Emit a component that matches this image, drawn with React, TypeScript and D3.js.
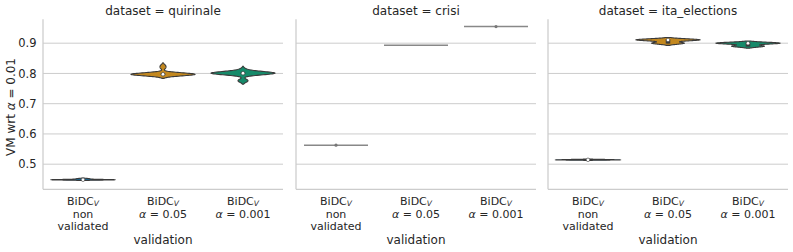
import React from 'react';
import * as d3 from 'd3';

// facets and categories
const datasets = ['quirinale', 'crisi', 'ita_elections'];
const validations = ['nv', 'a005', 'a0001'];
const secondLines = ['non', 'α = 0.05', 'α = 0.001'];
const thirdLines = ['validated', '', ''];
const colors = ['#176d9c', '#c3881f', '#168a6a'];
const yTicks = [0.5, 0.6, 0.7, 0.8, 0.9];

// VM wrt alpha = 0.01, samples per dataset / validation
const quirinaleNv = [0.4478, 0.448, 0.4483, 0.4485, 0.4485, 0.4488, 0.449, 0.4495, 0.451, 0.4525];
const quirinale005 = [0.793, 0.794, 0.795, 0.796, 0.796, 0.797, 0.797, 0.797, 0.797, 0.7975, 0.798, 0.798, 0.798, 0.799, 0.8, 0.801, 0.818, 0.826];
const quirinale0001 = [0.775, 0.777, 0.798, 0.799, 0.8, 0.8, 0.8, 0.8005, 0.801, 0.801, 0.801, 0.802, 0.802, 0.803, 0.804, 0.813];
const crisiNv = [0.563, 0.563, 0.563];
const crisi005 = [0.893];
const crisi0001 = [0.955, 0.955, 0.955];
const itaNv = [0.5135, 0.514, 0.514, 0.5145, 0.5145, 0.515, 0.5155, 0.516];
const ita005 = [0.8995, 0.9, 0.9, 0.9005, 0.91, 0.9105, 0.911, 0.911, 0.911, 0.9115, 0.912, 0.912];
const ita0001 = [0.8895, 0.89, 0.89, 0.8905, 0.899, 0.8995, 0.9, 0.9, 0.9, 0.9005, 0.901, 0.901];

const samples = [
  [quirinaleNv, quirinale005, quirinale0001],
  [crisiNv, crisi005, crisi0001],
  [itaNv, ita005, ita0001],
];

const W = 793, H = 252;
const panelLeft = [43, 296, 548];
const panelW = 240;
const top = 19.3, bottom = 189.3;
const textColor = '#262626';
const grid = '#cccccc';
const gray = '#3a3a3a';
const font = 'DejaVu Sans, sans-serif';

const y = d3.scaleLinear().domain([0.417, 0.979]).range([bottom, top]);
const x = d3.scaleBand().domain(validations).range([0, panelW]);

// gaussian kde, scott bandwidth, cut = 2 (like seaborn)
function profile(values: number[]) {
  const n = values.length;
  const sd = d3.deviation(values) as number;
  const bw = sd * Math.pow(n, -0.2);
  const lo = (d3.min(values) as number) - 2 * bw;
  const hi = (d3.max(values) as number) + 2 * bw;
  const pts = d3.range(100).map(i => lo + ((hi - lo) * i) / 99);
  const dens = pts.map(p => d3.sum(values, v => Math.exp(-0.5 * ((p - v) / bw) ** 2)));
  const m = d3.max(dens) as number;
  return pts.map((p, i) => [p, dens[i] / m] as [number, number]);
}

function Violin({ values, cx, color }: { values: number[]; cx: number; color: string }) {
  const half = x.bandwidth() * 0.4;
  const unique = new Set(values).size;
  if (unique === 1) {
    return (
      <g>
        <line x1={cx - half} x2={cx + half} y1={y(values[0])} y2={y(values[0])} stroke="#888" strokeWidth={1.5} />
        {values.length > 1 && <circle cx={cx} cy={y(values[0])} r={1.6} fill="#777" />}
      </g>
    );
  }
  const prof = profile(values);
  const area = d3.area<[number, number]>()
    .x0(d => cx - d[1] * half)
    .x1(d => cx + d[1] * half)
    .y(d => y(d[0]));
  const sorted = [...values].sort(d3.ascending);
  const q1 = d3.quantile(sorted, 0.25) as number;
  const q3 = d3.quantile(sorted, 0.75) as number;
  const med = d3.median(sorted) as number;
  const iqr = q3 - q1;
  const lo = d3.min(sorted.filter(v => v >= q1 - 1.5 * iqr)) as number;
  const hi = d3.max(sorted.filter(v => v <= q3 + 1.5 * iqr)) as number;
  return (
    <g>
      <path d={area(prof) || ''} fill={color} stroke={gray} strokeWidth={1.1} />
      <line x1={cx} x2={cx} y1={y(lo)} y2={y(hi)} stroke={gray} strokeWidth={1.5} />
      <line x1={cx} x2={cx} y1={y(q1) + 0.5} y2={y(q3) - 0.5} stroke={gray} strokeWidth={4.5} />
      <circle cx={cx} cy={y(med)} r={1.8} fill="#fff" stroke={gray} strokeWidth={0.6} />
    </g>
  );
}

export default function App() {
  return (
    <svg width={W} height={H} style={{ position: 'absolute', left: 0, top: 0, background: '#fff' }} fontFamily={font}>
      <rect width={W} height={H} fill="#fff" />
      {datasets.map((ds, pi) => {
        const ox = panelLeft[pi];
        return (
          <g key={ds} transform={`translate(${ox},0)`}>
            {yTicks.map(t => (
              <line key={t} x1={0} x2={panelW} y1={y(t)} y2={y(t)} stroke={grid} strokeWidth={1} />
            ))}
            <line x1={0} x2={0} y1={top} y2={bottom} stroke={grid} strokeWidth={1.25} />
            <line x1={0} x2={panelW} y1={bottom} y2={bottom} stroke={grid} strokeWidth={1.25} />
            {pi === 0 && yTicks.map(t => (
              <text key={t} x={-6.5} y={y(t)} dy="0.36em" textAnchor="end" fontSize={11.5} fill={textColor}>{t.toFixed(1)}</text>
            ))}
            <text x={panelW / 2} y={14.5} textAnchor="middle" fontSize={12} fill={textColor}>{`dataset = ${ds}`}</text>
            {validations.map((v, vi) => {
              const cx = (x(v) as number) + x.bandwidth() / 2;
              const second = secondLines[vi];
              return (
                <g key={v}>
                  <Violin values={samples[pi][vi]} cx={cx} color={colors[vi]} />
                  <text x={cx} y={204.8} textAnchor="middle" fontSize={11} fill={textColor}>
                    BiDC<tspan dy={1.5} fontSize={7.5} fontStyle="italic">V</tspan>
                  </text>
                  <text x={cx} y={217.6} textAnchor="middle" fontSize={11} fill={textColor}>
                    {second.startsWith('α') ? (
                      <>
                        <tspan fontStyle="italic">α</tspan>
                        {second.slice(1)}
                      </>
                    ) : second}
                  </text>
                  {thirdLines[vi] && (
                    <text x={cx} y={230.4} textAnchor="middle" fontSize={11} fill={textColor}>{thirdLines[vi]}</text>
                  )}
                </g>
              );
            })}
            <text x={panelW / 2} y={244} textAnchor="middle" fontSize={12} fill={textColor}>validation</text>
          </g>
        );
      })}
      <text transform={`translate(15,107) rotate(-90)`} textAnchor="middle" fontSize={12} fill={textColor}>
        VM wrt <tspan fontStyle="italic">α</tspan> = 0.01
      </text>
    </svg>
  );
}
